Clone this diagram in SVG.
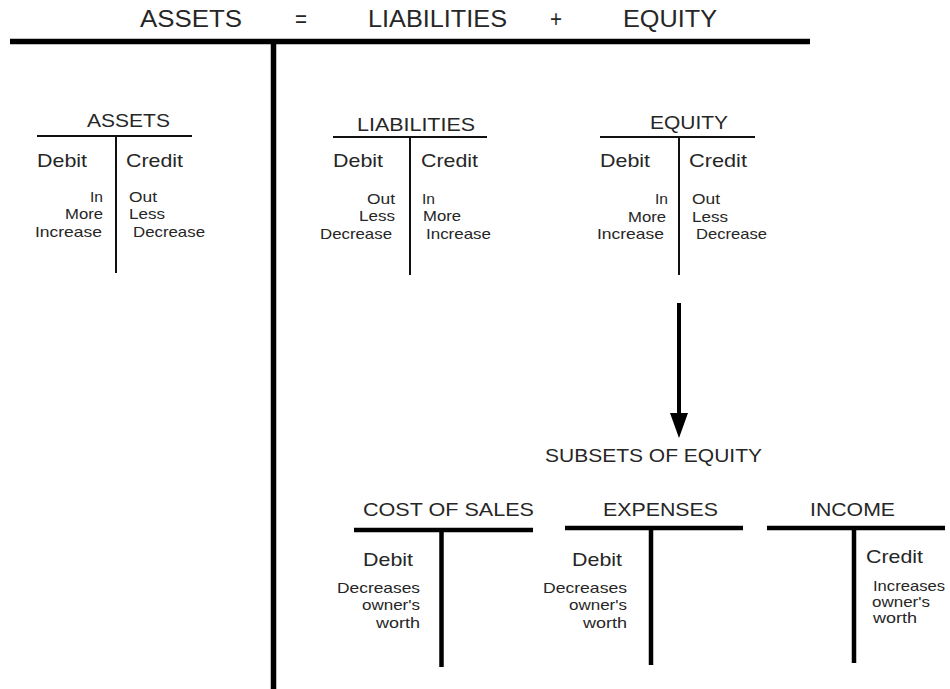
<svg xmlns="http://www.w3.org/2000/svg" width="950" height="689" viewBox="0 0 950 689">
<style>
text{font-family:"Liberation Sans",Arial,sans-serif;fill:#262626}
.eq{font-size:24px}
.tt{font-size:19px}
.dc{font-size:19px}
.sm{font-size:14.5px}
.r{text-anchor:end}
.thin{stroke:#111;stroke-width:2;fill:none}
.thick{stroke:#000;stroke-width:4.5;fill:none}
.main{stroke:#000;stroke-width:5.5;fill:none}
</style>
<defs>
<marker id="ah" markerWidth="18" markerHeight="25" refX="9" refY="22" orient="auto-start-reverse" markerUnits="userSpaceOnUse" viewBox="0 0 18 25">
<polygon points="0,0 18,0 9,25" fill="#000" transform="rotate(0)"/>
</marker>
</defs>
<g id="equation">
<text class="eq" x="140" y="27" textLength="102" lengthAdjust="spacingAndGlyphs">ASSETS</text>
<text class="eq" x="295" y="27" textLength="12" lengthAdjust="spacingAndGlyphs">=</text>
<text class="eq" x="368" y="27" textLength="139" lengthAdjust="spacingAndGlyphs">LIABILITIES</text>
<text class="eq" x="550" y="27" textLength="12" lengthAdjust="spacingAndGlyphs">+</text>
<text class="eq" x="623" y="27" textLength="94" lengthAdjust="spacingAndGlyphs">EQUITY</text>
<line class="main" x1="10" y1="41.5" x2="810" y2="41.5"/>
<line class="main" x1="273.5" y1="41.5" x2="273.5" y2="689"/>
</g>
<g id="assets">
<text class="tt" x="87" y="127" textLength="83" lengthAdjust="spacingAndGlyphs">ASSETS</text>
<line class="thin" x1="37" y1="136" x2="192" y2="136"/>
<line class="thin" x1="116" y1="136" x2="116" y2="273"/>
<text class="dc" x="37" y="167" textLength="50" lengthAdjust="spacingAndGlyphs">Debit</text>
<text class="dc" x="126" y="167" textLength="57" lengthAdjust="spacingAndGlyphs">Credit</text>
<text class="sm r" x="103" y="202" textLength="13" lengthAdjust="spacingAndGlyphs">In</text>
<text class="sm r" x="103" y="219" textLength="38" lengthAdjust="spacingAndGlyphs">More</text>
<text class="sm r" x="102" y="237" textLength="67" lengthAdjust="spacingAndGlyphs">Increase</text>
<text class="sm" x="129" y="202" textLength="28" lengthAdjust="spacingAndGlyphs">Out</text>
<text class="sm" x="129" y="219" textLength="36" lengthAdjust="spacingAndGlyphs">Less</text>
<text class="sm" x="133" y="237" textLength="72" lengthAdjust="spacingAndGlyphs">Decrease</text>
</g>
<g id="liabilities">
<text class="tt" x="357" y="131" textLength="118" lengthAdjust="spacingAndGlyphs">LIABILITIES</text>
<line class="thin" x1="333" y1="137" x2="487" y2="137"/>
<line class="thin" x1="410" y1="137" x2="410" y2="275"/>
<text class="dc" x="333" y="167" textLength="50" lengthAdjust="spacingAndGlyphs">Debit</text>
<text class="dc" x="421" y="167" textLength="57" lengthAdjust="spacingAndGlyphs">Credit</text>
<text class="sm r" x="395" y="204" textLength="28" lengthAdjust="spacingAndGlyphs">Out</text>
<text class="sm r" x="395" y="221" textLength="36" lengthAdjust="spacingAndGlyphs">Less</text>
<text class="sm r" x="392" y="239" textLength="72" lengthAdjust="spacingAndGlyphs">Decrease</text>
<text class="sm" x="422" y="204" textLength="13" lengthAdjust="spacingAndGlyphs">In</text>
<text class="sm" x="423" y="221" textLength="38" lengthAdjust="spacingAndGlyphs">More</text>
<text class="sm" x="426" y="239" textLength="65" lengthAdjust="spacingAndGlyphs">Increase</text>
</g>
<g id="equity">
<text class="tt" x="650" y="129" textLength="78" lengthAdjust="spacingAndGlyphs">EQUITY</text>
<line class="thin" x1="600" y1="137" x2="755" y2="137"/>
<line class="thin" x1="679" y1="137" x2="679" y2="275"/>
<text class="dc" x="600" y="167" textLength="50" lengthAdjust="spacingAndGlyphs">Debit</text>
<text class="dc" x="689" y="167" textLength="58" lengthAdjust="spacingAndGlyphs">Credit</text>
<text class="sm r" x="668" y="204" textLength="13" lengthAdjust="spacingAndGlyphs">In</text>
<text class="sm r" x="666" y="222" textLength="38" lengthAdjust="spacingAndGlyphs">More</text>
<text class="sm r" x="664" y="239" textLength="67" lengthAdjust="spacingAndGlyphs">Increase</text>
<text class="sm" x="692" y="204" textLength="28" lengthAdjust="spacingAndGlyphs">Out</text>
<text class="sm" x="692" y="222" textLength="36" lengthAdjust="spacingAndGlyphs">Less</text>
<text class="sm" x="696" y="239" textLength="71" lengthAdjust="spacingAndGlyphs">Decrease</text>
</g>
<g id="connectors">
<line x1="679" y1="303" x2="679" y2="416" stroke="#000" stroke-width="4"/>
<polygon points="670,413 688,413 679,438" fill="#000"/>
</g>
<g id="subsets-label">
<text class="tt" x="545" y="462" textLength="217" lengthAdjust="spacingAndGlyphs">SUBSETS OF EQUITY</text>
</g>
<g id="cost-of-sales">
<text class="tt" x="363" y="516" textLength="171" lengthAdjust="spacingAndGlyphs">COST OF SALES</text>
<line class="thick" x1="354" y1="530" x2="533" y2="530"/>
<line class="thick" x1="441.5" y1="530" x2="441.5" y2="667"/>
<text class="dc" x="363" y="566" textLength="50" lengthAdjust="spacingAndGlyphs">Debit</text>
<text class="sm r" x="420" y="593" textLength="83" lengthAdjust="spacingAndGlyphs">Decreases</text>
<text class="sm r" x="420" y="610" textLength="58" lengthAdjust="spacingAndGlyphs">owner's</text>
<text class="sm r" x="420" y="628" textLength="44" lengthAdjust="spacingAndGlyphs">worth</text>
</g>
<g id="expenses">
<text class="tt" x="603" y="516" textLength="115" lengthAdjust="spacingAndGlyphs">EXPENSES</text>
<line class="thick" x1="565" y1="528" x2="743" y2="528"/>
<line class="thick" x1="651" y1="528" x2="651" y2="665"/>
<text class="dc" x="572" y="566" textLength="50" lengthAdjust="spacingAndGlyphs">Debit</text>
<text class="sm r" x="627" y="593" textLength="84" lengthAdjust="spacingAndGlyphs">Decreases</text>
<text class="sm r" x="627" y="610" textLength="58" lengthAdjust="spacingAndGlyphs">owner's</text>
<text class="sm r" x="627" y="628" textLength="44" lengthAdjust="spacingAndGlyphs">worth</text>
</g>
<g id="income">
<text class="tt" x="810" y="516" textLength="85" lengthAdjust="spacingAndGlyphs">INCOME</text>
<line class="thick" x1="767" y1="528" x2="945" y2="528"/>
<line class="thick" x1="854" y1="528" x2="854" y2="663"/>
<text class="dc" x="866" y="563" textLength="57" lengthAdjust="spacingAndGlyphs">Credit</text>
<text class="sm" x="873" y="591" textLength="72" lengthAdjust="spacingAndGlyphs">Increases</text>
<text class="sm" x="872" y="607" textLength="58" lengthAdjust="spacingAndGlyphs">owner's</text>
<text class="sm" x="873" y="623" textLength="44" lengthAdjust="spacingAndGlyphs">worth</text>
</g>
</svg>
